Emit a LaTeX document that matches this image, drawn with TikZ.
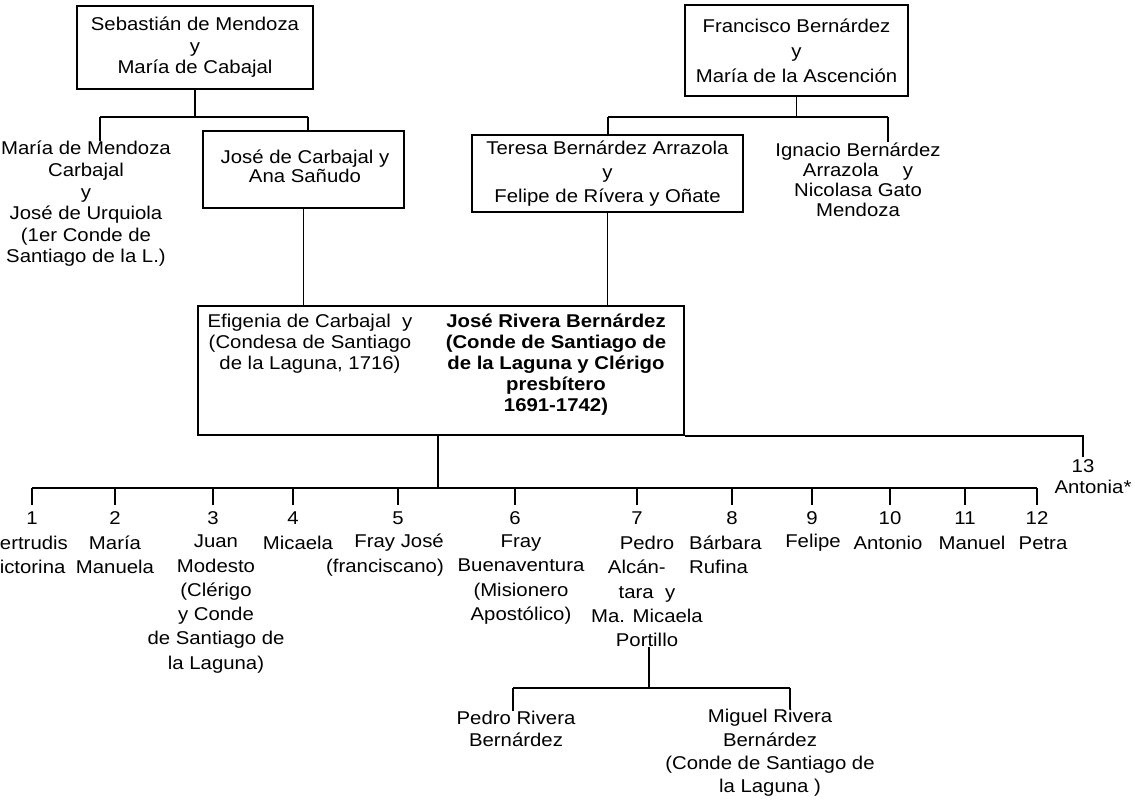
\documentclass[tikz,border=0pt]{standalone}
\usepackage{fontspec}
\setmainfont{Liberation Sans}[FakeStretch=1.1]
\begin{document}
\begin{tikzpicture}[x=1pt,y=-1pt,
  ln/.style={line width=1.6pt},
  fbox/.style={draw,line width=1.6pt,inner sep=0pt,align=center},
  lines/.style={font=\fontsize{18.5}{#1}\selectfont},
  lines/.default=21.5,
  txt/.style={inner sep=0pt,align=center,lines=#1},
  txt/.default=24.3,
  num/.style={inner sep=0pt,font=\fontsize{18.5}{21}\selectfont}]
\fill[white] (0,0) rectangle (1135,806);
\useasboundingbox (0,0) rectangle (1135,806);

% top-left family
\node[fbox,lines=21.5,minimum width=236pt,minimum height=83pt] (b1) at (195,47.5)
  {Sebastián de Mendoza\\y\\María de Cabajal};
\node[fbox,lines=19.5,minimum width=201pt,minimum height=77pt] (b2) at (303.5,169.5) {};
\node[txt=19.5] (b2t) at (305,166.5) {José de Carbajal y\\Ana Sañudo};
\node[txt=21.6] (mm) at (86,204)
  {María de Mendoza\\Carbajal\\y\\José de Urquiola\\(1er Conde de\\Santiago de la L.)};

% top-right family
\node[fbox,lines=25,minimum width=223pt,minimum height=91pt] (b3) at (796.5,50.5)
  {Francisco Bernárdez\\y\\María de la Ascención};
\node[fbox,lines=24,minimum width=271pt,minimum height=77pt] (b4) at (607.5,173.5)
  {Teresa Bernárdez Arrazola\\y\\Felipe de Rívera y Oñate};
\node[txt=20] (ig) at (858,179.5)
  {Ignacio Bernárdez\\Arrazola\quad\ y\\Nicolasa Gato\\Mendoza};

% main couple
\node[draw,line width=1.6pt,inner sep=0pt,minimum width=486pt,minimum height=129pt] (main) at (441,370.5) {};
\node[txt=21] (ef) at (310,344)
  {Efigenia de Carbajal\ \ y\\(Condesa de Santiago\\de la Laguna, 1716)};
\node[txt=21,font=\fontsize{18.5}{21}\selectfont\bfseries] (jr) at (556,365)
  {José Rivera Bernárdez\\(Conde de Santiago de\\de la Laguna y Clérigo\\presbítero\\1691-1742)};

% connectors top
\coordinate (L1) at (100,117);
\coordinate (R1) at (308,117);
\draw[ln] (b1.south) -- (b1.south |- L1);
\draw[ln] (L1) -- (R1);
\draw[ln] (L1) -- (L1 |- mm.north);
\draw[ln] (R1) -- (R1 |- b2.north);
\draw[ln] (b2.south) -- (b2.south |- main.north);

\coordinate (L2) at (608,117);
\coordinate (R2) at (888,117);
\draw[ln] (b3.south) -- (b3.south |- L2);
\draw[ln] (L2) -- (R2);
\draw[ln] (L2) -- (L2 |- b4.north);
\draw[ln] (R2) -- (R2 |- ig.north);
\draw[ln] (b4.south) -- (b4.south |- main.north);

% children
\coordinate (bar) at (438,488);
\foreach \i/\x in {1/32,2/115,3/213,4/293,5/398,6/515,7/637,8/732,9/812,10/890,11/965,12/1037}
  \node[num] (n\i) at (\x,518) {\i};
\node[num] (n13) at (1083,466) {13};
\node[num] (ant) at (1093,487) {Antonia*};

\draw[ln] (main.south -| bar) -- (bar);
\draw[ln] (n1.north |- bar) -- (n12.north |- bar);
\foreach \i in {1,...,12}
  \draw[ln,shorten >=6pt] (n\i.north |- bar) -- (n\i.north);
\draw[ln,shorten >=2pt] (main.south east) -- (main.south east -| n13.north) -- (n13.north);

\node[txt] (c1) at (26,555) {Gertrudis\\Victorina};
\node[txt] (c2) at (115,555) {María\\Manuela};
\node[txt] (c3) at (216,604) {Juan\\Modesto\\(Clérigo\\y Conde\\de Santiago de\\la Laguna)};
\node[txt] (c4) at (298,543) {Micaela};
\node[txt,align=right,anchor=east] (c5) at (444,555) {Fray José\\(franciscano)};
\node[txt] (c6) at (521,579.5) {Fray\\Buenaventura\\(Misionero\\Apostólico)};
\node[txt] (c7) at (647,591.6) {Pedro\\Alcán-\phantom{xx}\\tara\ \ y\\Ma. Micaela\\Portillo};
\node[txt,align=left,anchor=west] (c8) at (689,555) {Bárbara\\Rufina};
\node[txt] (c9) at (813,543) {Felipe};
\node[txt] (c10) at (888,543) {Antonio};
\node[txt] (c11) at (972,543) {Manuel};
\node[txt] (c12) at (1043,543) {Petra};

% grandchildren
\coordinate (gbar) at (649,688);
\node[txt=22] (g1) at (516,729) {Pedro Rivera\\Bernárdez};
\node[txt=23.3] (g2) at (770,753) {Miguel Rivera\\Bernárdez\\(Conde de Santiago de\\la Laguna )};
\draw[ln] (c7.south -| gbar) -- (gbar);
\draw[ln] (513,688) coordinate (gl) -- (790,688) coordinate (gr);
\draw[ln] (gl) -- (gl |- g1.north);
\draw[ln] (gr) -- (gr |- g2.north);
\end{tikzpicture}
\end{document}
